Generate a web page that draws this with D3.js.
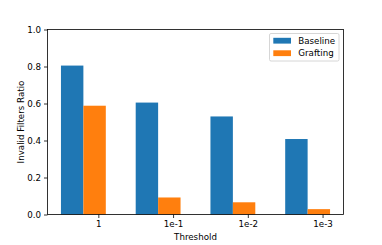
<!DOCTYPE html>
<html>
<head>
<meta charset="utf-8">
<script src="https://cdn.jsdelivr.net/npm/d3@7"></script>
<style>
  body { margin: 0; background: #fff; }
  text { font-family: "DejaVu Sans", sans-serif; fill: #000; }
</style>
</head>
<body>
<div id="chart"></div>
<script>
const thresholds = ['1', '1e-1', '1e-2', '1e-3'];
const baseline = [0.805, 0.605, 0.53, 0.408];
const grafting = [0.588, 0.092, 0.066, 0.029];
const yTicks = [0.0, 0.2, 0.4, 0.6, 0.8, 1.0];

const W = 382, H = 245;
const margin = { top: 29.5, right: 38.5, bottom: 30.5, left: 47.5 };
const width = W - margin.left - margin.right;
const height = H - margin.top - margin.bottom;
const barW = 0.3;
const fs = '8.7px';

const svg = d3.select('#chart')
  .append('svg')
  .attr('width', W)
  .attr('height', H)
  .append('g')
  .attr('transform', `translate(${margin.left},${margin.top})`);

const x = d3.scaleLinear()
  .domain([-0.33, 3.63])
  .range([0, width]);

const y = d3.scaleLinear()
  .domain([0, 1])
  .range([height, 0]);

// bars
const series = [
  { name: 'Baseline', values: baseline, color: '#1f77b4', off: -barW / 2 },
  { name: 'Grafting', values: grafting, color: '#ff7f0e', off: barW / 2 }
];

series.forEach(s => {
  svg.selectAll(null)
    .data(s.values)
    .enter()
    .append('rect')
    .attr('x', (d, i) => x(i + s.off))
    .attr('width', x(barW) - x(0))
    .attr('y', d => y(d))
    .attr('height', d => y(0) - y(d))
    .attr('fill', s.color);
});

// axes
const xAxis = svg.append('g')
  .attr('transform', `translate(0,${height})`)
  .call(d3.axisBottom(x)
    .tickValues(thresholds.map((t, i) => i + 0.35))
    .tickFormat((d, i) => thresholds[i])
    .tickSize(3.5)
    .tickPadding(3));

const yAxis = svg.append('g')
  .call(d3.axisLeft(y)
    .tickValues(yTicks)
    .tickFormat(d3.format('.1f'))
    .tickSize(3.5)
    .tickPadding(3));

[xAxis, yAxis].forEach(a => {
  a.select('.domain').remove();
  a.selectAll('line').attr('stroke', '#000').attr('stroke-width', 0.8);
  a.selectAll('text').style('font-size', fs).attr('fill', '#000');
});

// frame
svg.append('rect')
  .attr('width', width)
  .attr('height', height)
  .attr('fill', 'none')
  .attr('stroke', '#000')
  .attr('stroke-width', 0.8);

// labels
svg.append('text')
  .attr('x', width / 2)
  .attr('y', height + 25)
  .attr('text-anchor', 'middle')
  .style('font-size', fs)
  .text('Threshold');

svg.append('text')
  .attr('transform', `translate(${-24},${height / 2}) rotate(-90)`)
  .attr('text-anchor', 'middle')
  .style('font-size', fs)
  .text('Invalid Filters Ratio');

// legend
const lg = svg.append('g')
  .attr('transform', `translate(${width - 74},${4})`);

lg.append('rect')
  .attr('width', 69.5)
  .attr('height', 27.5)
  .attr('rx', 1.5)
  .attr('fill', '#fff')
  .attr('fill-opacity', 0.8)
  .attr('stroke', '#ccc')
  .attr('stroke-width', 0.8);

series.forEach((s, i) => {
  lg.append('rect')
    .attr('x', 3.8)
    .attr('y', 4.3 + i * 12.5)
    .attr('width', 17.7)
    .attr('height', 5.8)
    .attr('fill', s.color);
  lg.append('text')
    .attr('x', 28.8)
    .attr('y', 7.2 + i * 12.5)
    .attr('dy', '0.35em')
    .style('font-size', fs)
    .text(s.name);
});
</script>
</body>
</html>
